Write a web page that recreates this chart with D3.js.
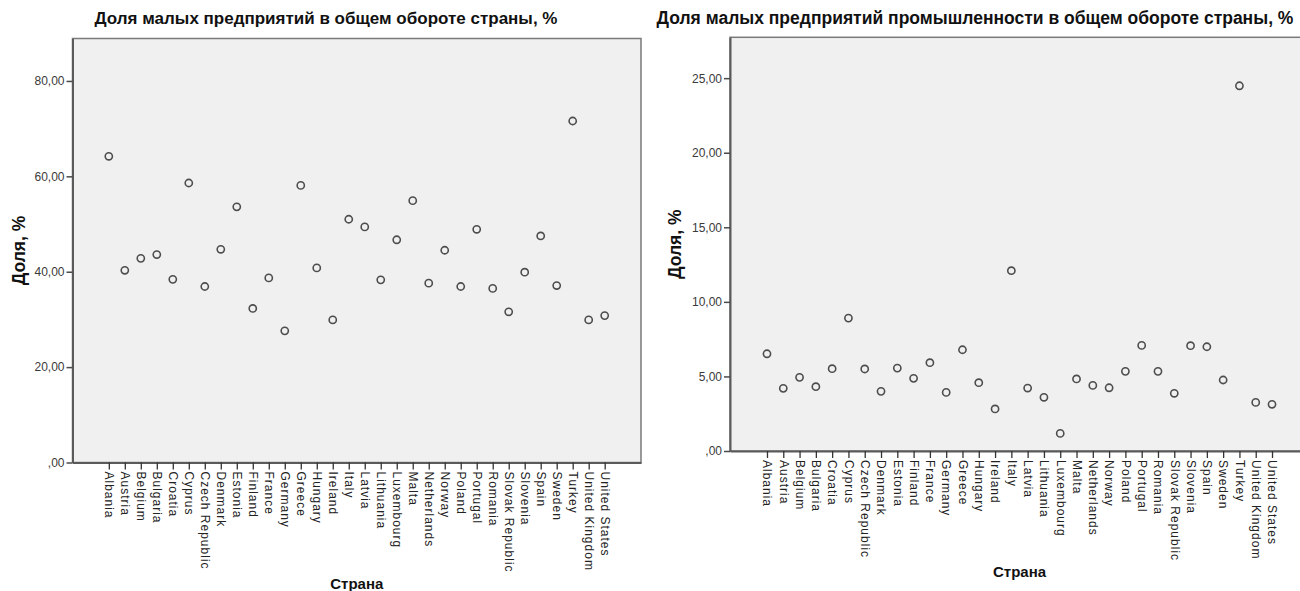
<!DOCTYPE html>
<html><head><meta charset="utf-8">
<script src="https://cdn.jsdelivr.net/npm/d3@7"></script>
<style>body{margin:0;background:#fff}svg{display:block}</style>
</head><body>
<svg id="c" width="1300" height="591"></svg>
<script>
const countries = ["Albania","Austria","Belgium","Bulgaria","Croatia","Cyprus","Czech Republic","Denmark","Estonia","Finland","France","Germany","Greece","Hungary","Ireland","Italy","Latvia","Lithuania","Luxembourg","Malta","Netherlands","Norway","Poland","Portugal","Romania","Slovak Republic","Slovenia","Spain","Sweden","Turkey","United Kingdom","United States"];
const shareTotal = [64.2,40.3,42.8,43.6,38.4,58.6,36.9,44.7,53.6,32.3,38.7,27.6,58.1,40.8,29.9,51.0,49.4,38.3,46.7,54.9,37.6,44.5,36.9,48.9,36.5,31.6,39.9,47.5,37.1,71.6,29.9,30.8];
const shareIndustry = [6.52,4.20,4.94,4.31,5.52,8.91,5.50,4.00,5.56,4.87,5.92,3.93,6.79,4.58,2.82,12.09,4.22,3.60,1.18,4.83,4.40,4.24,5.34,7.08,5.34,3.87,7.06,6.99,4.76,24.49,3.26,3.13];
const ticksTotal = [0,20,40,60,80];
const ticksIndustry = [0,5,10,15,20,25];
const titleTotal = "Доля малых предприятий в общем обороте страны, %";
const titleIndustry = "Доля малых предприятий промышленности в общем обороте страны, %";
const yTitle = "Доля, %";
const xTitle = "Страна";

const svg = d3.select("#c");
const fmt = v => { let s = d3.format(".2f")(v).replace(".", ","); return s.startsWith("0,") ? s.slice(1) : s; };

function panel(o){
  const g = svg.append("g");
  const x = d3.scalePoint().domain(countries).range([o.fx, o.fx + o.fw]).padding(2.27);
  const y = d3.scaleLinear().domain([0, o.ymax]).range([o.fb, o.ft]);
  g.append("rect").attr("x", o.fx).attr("y", o.ft).attr("width", o.fw).attr("height", o.fb - o.ft)
    .attr("fill", "#f0f0f0").attr("stroke", "#7a7a7a").attr("stroke-width", 1.5);
  const ya = g.append("g").attr("transform", `translate(${o.fx},0)`)
    .call(d3.axisLeft(y).tickValues(o.ticks).tickFormat(fmt).tickSize(6).tickPadding(2).tickSizeOuter(0));
  ya.select(".domain").attr("stroke", "#5a5a5a").attr("stroke-width", 2);
  ya.selectAll(".tick line").attr("stroke", "#4a4a4a").attr("stroke-width", 1.5);
  ya.selectAll(".tick text").attr("font-family", "Liberation Sans, Arial, sans-serif").attr("font-size", 12).attr("fill", "#3a3a3a");
  const xa = g.append("g").attr("transform", `translate(0,${o.fb})`)
    .call(d3.axisBottom(x).tickSize(7).tickSizeOuter(0));
  xa.select(".domain").attr("stroke", "#5a5a5a").attr("stroke-width", 2);
  xa.selectAll(".tick line").attr("stroke", "#333").attr("stroke-width", 1.3);
  xa.selectAll(".tick text").attr("font-family", "Liberation Sans, Arial, sans-serif").attr("font-size", 12)
    .attr("fill", "#222").attr("letter-spacing", "1px")
    .attr("transform", "rotate(90)").attr("text-anchor", "start").attr("x", 9).attr("y", 0).attr("dy", "0.35em");
  g.append("g").selectAll("circle").data(o.values).join("circle")
    .attr("cx", (d, i) => x(countries[i])).attr("cy", d => y(d)).attr("r", 3.6)
    .attr("fill", "none").attr("stroke", "#4d4d4d").attr("stroke-width", 1.6);
  g.append("text").attr("x", o.titleCx).attr("y", 24).attr("text-anchor", "middle")
    .attr("font-family", "Liberation Sans, Arial, sans-serif").attr("font-weight", "bold").attr("font-size", o.titleSize)
    .attr("fill", "#111").text(o.title);
  g.append("text").attr("transform", `translate(${o.ylx},${(o.ft + o.fb) / 2}) rotate(-90)`).attr("text-anchor", "middle")
    .attr("dy", "0.35em").attr("font-family", "Liberation Sans, Arial, sans-serif").attr("font-weight", "bold")
    .attr("font-size", 17.5).attr("fill", "#111").text(yTitle);
  g.append("text").attr("x", o.fx + o.fw / 2).attr("y", o.fb + 126).attr("text-anchor", "middle")
    .attr("font-family", "Liberation Sans, Arial, sans-serif").attr("font-weight", "bold")
    .attr("font-size", 15).attr("fill", "#111").text(xTitle);
}

panel({fx: 72.5, fw: 568.5, ft: 38.5, fb: 462.5, ymax: 88.9, ticks: ticksTotal, values: shareTotal,
  title: titleTotal, titleCx: 326, titleSize: 17, ylx: 19});
panel({fx: 730, fw: 579, ft: 37.3, fb: 451, ymax: 27.74, ticks: ticksIndustry, values: shareIndustry,
  title: titleIndustry, titleCx: 975, titleSize: 17.5, ylx: 675});
</script>
</body></html>
